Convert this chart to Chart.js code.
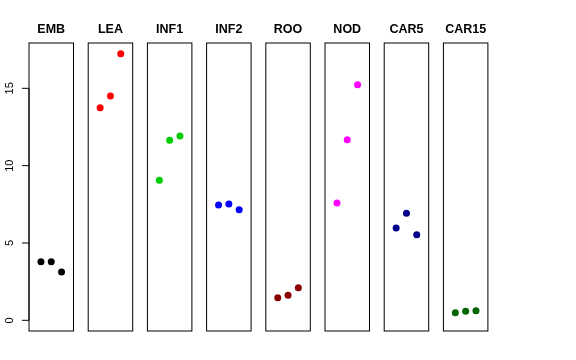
<!DOCTYPE html>
<html lang="en">

<head>
    <meta charset="UTF-8">
    <meta name="viewport" content="width=device-width, initial-scale=1.0">
    <script src="https://cdn.jsdelivr.net/npm/chart.js"></script>
    <title>Groups</title>
    <style>
        body { margin: 0; background: #fff; }
        #wrap { position: relative; width: 576px; height: 360px; }
        #wrap canvas { position: absolute; left: 0; top: 0; }
    </style>
</head>

<body>
    <div id="wrap"></div>

    <script>
        // data
        var groups = ['EMB', 'LEA', 'INF1', 'INF2', 'ROO', 'NOD', 'CAR5', 'CAR15'];
        var reps = [1, 2, 3];
        var EMB = [3.79, 3.79, 3.13];
        var LEA = [13.74, 14.50, 17.23];
        var INF1 = [9.05, 11.65, 11.91];
        var INF2 = [7.45, 7.52, 7.15];
        var ROO = [1.46, 1.62, 2.11];
        var NOD = [7.58, 11.67, 15.23];
        var CAR5 = [5.97, 6.92, 5.53];
        var CAR15 = [0.49, 0.58, 0.62];
        var seriesValues = [EMB, LEA, INF1, INF2, ROO, NOD, CAR5, CAR15];
        var colors = ['#000000', '#ff0000', '#00cd00', '#0000ff', '#8b0000', '#ff00ff', '#00008b', '#006400'];
        var yTicks = [0, 5, 10, 15];

        var W = 576, H = 360;
        var fontFamily = '"Liberation Sans", Arial, Helvetica, sans-serif';

        // box around each panel
        var panelBox = {
            id: 'panelBox',
            afterDatasetsDraw: function (chart) {
                var a = chart.chartArea, ctx = chart.ctx;
                ctx.save();
                ctx.strokeStyle = '#000';
                ctx.lineWidth = 1;
                ctx.strokeRect(a.left, a.top, a.right - a.left, a.bottom - a.top);
                ctx.restore();
            }
        };

        // R style left axis, only on the first panel
        var leftAxis = {
            id: 'leftAxis',
            afterDraw: function (chart) {
                var y = chart.scales.y, ctx = chart.ctx, x0 = chart.chartArea.left;
                ctx.save();
                ctx.strokeStyle = '#000';
                ctx.lineWidth = 1;
                ctx.beginPath();
                ctx.moveTo(x0, y.getPixelForValue(yTicks[0]));
                ctx.lineTo(x0, y.getPixelForValue(yTicks[yTicks.length - 1]));
                yTicks.forEach(function (v) {
                    var py = y.getPixelForValue(v);
                    ctx.moveTo(x0, py);
                    ctx.lineTo(x0 - 7, py);
                });
                ctx.stroke();
                ctx.fillStyle = '#000';
                ctx.font = '11px ' + fontFamily;
                ctx.textAlign = 'center';
                ctx.textBaseline = 'middle';
                yTicks.forEach(function (v) {
                    ctx.save();
                    ctx.translate(x0 - 19, y.getPixelForValue(v));
                    ctx.rotate(-Math.PI / 2);
                    ctx.fillText(String(v), 0, 0);
                    ctx.restore();
                });
                ctx.restore();
            }
        };

        var wrap = document.getElementById('wrap');

        groups.forEach(function (name, i) {
            var canvas = document.createElement('canvas');
            canvas.width = W;
            canvas.height = H;
            wrap.appendChild(canvas);

            var boxLeft = 29 + 59.2 * i;
            var boxRight = boxLeft + 44.5;

            var points = reps.map(function (r, k) {
                return { x: r, y: seriesValues[i][k] };
            });

            new Chart(canvas.getContext('2d'), {
                type: 'scatter',
                data: {
                    datasets: [{
                        label: name,
                        data: points,
                        pointRadius: 3.5,
                        pointBackgroundColor: colors[i],
                        pointBorderColor: colors[i],
                        pointBorderWidth: 0
                    }]
                },
                options: {
                    responsive: false,
                    animation: false,
                    devicePixelRatio: 1,
                    layout: {
                        padding: { left: boxLeft, right: W - boxRight, top: 0, bottom: 29 }
                    },
                    plugins: {
                        legend: { display: false },
                        tooltip: { enabled: false },
                        title: {
                            display: true,
                            text: name,
                            color: '#000',
                            font: { family: fontFamily, size: 12.5, weight: 'bold', lineHeight: 1.2 },
                            padding: { top: 22.5, bottom: 5.5 }
                        }
                    },
                    scales: {
                        x: { type: 'linear', display: false, min: -0.16, max: 4.16 },
                        y: { type: 'linear', display: false, min: -0.69, max: 17.93 }
                    }
                },
                plugins: i === 0 ? [panelBox, leftAxis] : [panelBox]
            });
        });
    </script>

</body>

</html>
